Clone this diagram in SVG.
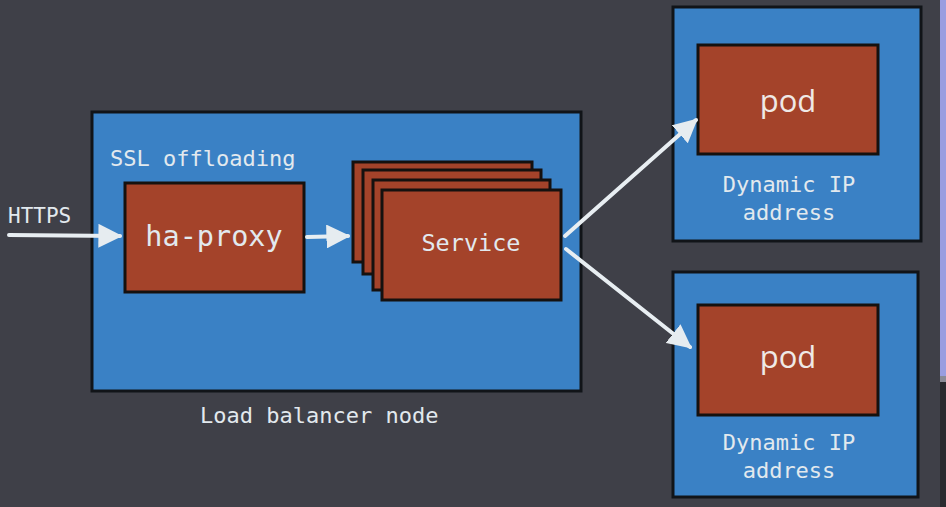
<svg xmlns="http://www.w3.org/2000/svg" width="946" height="507" viewBox="0 0 946 507">
<defs>
<style>
.bg{fill:#3f4048}
.blue{fill:#3a81c5;stroke:#111418;stroke-width:3}
.rust{fill:#a4432a;stroke:#15110f;stroke-width:3}
.mono{font-family:"DejaVu Sans Mono","Liberation Mono",monospace;fill:#e2e9ee}
.sans{font-family:"Open Sans","Liberation Sans",sans-serif;fill:#efe9e6}
.conn{stroke:#e8eef2;stroke-width:4;fill:none;stroke-linecap:round}
</style>
<marker id="ah" viewBox="0 0 10 10" refX="9" refY="5" markerWidth="6" markerHeight="6" markerUnits="strokeWidth" orient="auto">
<path d="M0,0 L10,5 L0,10 Z" fill="#e6ecf0"/>
</marker>
</defs>
<rect class="bg" x="0" y="0" width="946" height="507"/>
<rect x="940" y="0" width="6" height="376" fill="#9a9de0"/>
<rect x="940" y="376" width="6" height="6" fill="#8a8a96"/>
<rect x="940" y="382" width="6" height="125" fill="#2a2a2f"/>

<g id="lb-node">
<rect class="blue" x="92" y="112" width="489" height="279"/>
<text class="mono" x="110" y="166" font-size="22">SSL offloading</text>
<text class="mono" x="200" y="423" font-size="22">Load balancer node</text>
</g>

<g id="ha-proxy">
<rect class="rust" x="125" y="183" width="179" height="109"/>
<text class="mono" x="214" y="246" font-size="28.5" text-anchor="middle">ha-proxy</text>
</g>

<g id="service">
<rect class="rust" x="353" y="162" width="179" height="100"/>
<rect class="rust" x="363" y="170" width="178" height="104"/>
<rect class="rust" x="373" y="180" width="177" height="110"/>
<rect class="rust" x="382" y="190" width="179" height="110"/>
<text class="mono" x="471" y="251" font-size="23.5" text-anchor="middle">Service</text>
</g>

<g id="pod-top">
<rect class="blue" x="673" y="7" width="248" height="234"/>
<rect class="rust" x="698" y="45" width="180" height="109"/>
<text class="sans" x="788" y="112" font-size="31" text-anchor="middle">pod</text>
<text class="mono" x="789" y="192" font-size="22" text-anchor="middle">Dynamic IP</text>
<text class="mono" x="789" y="220" font-size="22" text-anchor="middle">address</text>
</g>

<g id="pod-bottom">
<rect class="blue" x="673" y="272" width="245" height="225"/>
<rect class="rust" x="698" y="305" width="180" height="110"/>
<text class="sans" x="788" y="368" font-size="31" text-anchor="middle">pod</text>
<text class="mono" x="789" y="450" font-size="22" text-anchor="middle">Dynamic IP</text>
<text class="mono" x="789" y="478" font-size="22" text-anchor="middle">address</text>
</g>

<g id="labels">
<text class="mono" x="8" y="223" font-size="21">HTTPS</text>
</g>

<g id="connectors">
<path class="conn" d="M9,235 L120,236" marker-end="url(#ah)"/>
<path class="conn" d="M307,237 L348,236" marker-end="url(#ah)"/>
<path class="conn" d="M565,236 L696,120" marker-end="url(#ah)"/>
<path class="conn" d="M566,249 L690,347" marker-end="url(#ah)"/>
</g>
</svg>
